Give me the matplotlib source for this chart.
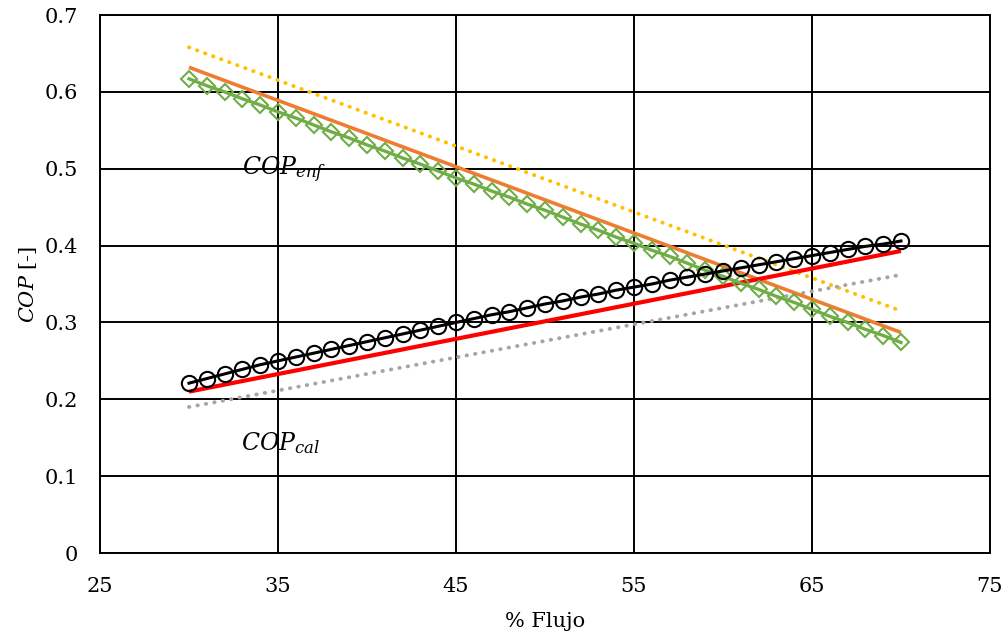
import matplotlib
matplotlib.use("Agg")
import matplotlib.pyplot as plt

plt.rcParams['font.family'] = ['DejaVu Serif']
plt.rcParams['mathtext.fontset'] = 'dejavuserif'

flujo = list(range(30, 71))

cop_cal = [0.221, 0.227, 0.233, 0.239, 0.245, 0.250, 0.255, 0.260, 0.265, 0.270,
           0.275, 0.280, 0.285, 0.290, 0.295, 0.300, 0.305, 0.310, 0.314, 0.319,
           0.324, 0.328, 0.333, 0.337, 0.342, 0.346, 0.350, 0.355, 0.359, 0.363,
           0.367, 0.371, 0.375, 0.379, 0.383, 0.387, 0.391, 0.395, 0.399, 0.402,
           0.406]

cop_enf = [0.617, 0.608, 0.600, 0.591, 0.583, 0.574, 0.566, 0.557, 0.548, 0.540,
           0.531, 0.523, 0.514, 0.506, 0.497, 0.488, 0.480, 0.471, 0.463, 0.454,
           0.446, 0.437, 0.428, 0.420, 0.411, 0.403, 0.394, 0.386, 0.377, 0.368,
           0.360, 0.351, 0.343, 0.334, 0.326, 0.317, 0.308, 0.300, 0.291, 0.283,
           0.274]

line_x = [30, 70]
red_cal = [0.210, 0.393]
gray_cal = [0.190, 0.362]
orange_enf = [0.632, 0.287]
yellow_enf = [0.658, 0.315]

x_ticks = [25, 35, 45, 55, 65, 75]
y_ticks = [0, 0.1, 0.2, 0.3, 0.4, 0.5, 0.6, 0.7]
y_tick_labels = ["0", "0.1", "0.2", "0.3", "0.4", "0.5", "0.6", "0.7"]

fig = plt.figure(figsize=(10.03, 6.42), dpi=100)
ax = fig.add_axes([0.0997, 0.1386, 0.8873, 0.838])

ax.plot(line_x, yellow_enf, color='#FFC000', lw=2.8, linestyle=(0, (0.1, 2.1)),
        dash_capstyle='round', zorder=3)
ax.plot(line_x, gray_cal, color='#A5A5A5', lw=2.8, linestyle=(0, (0.1, 2.1)),
        dash_capstyle='round', zorder=3)
ax.plot(line_x, orange_enf, color='#ED7D31', lw=2.6, solid_capstyle='butt', zorder=3)
ax.plot(line_x, red_cal, color='#FF0000', lw=3.0, solid_capstyle='butt', zorder=3)
ax.plot(flujo, cop_enf, color='#70AD47', lw=2.4, marker='D', markersize=8.5,
        markerfacecolor='none', markeredgecolor='#70AD47', markeredgewidth=1.5, zorder=4)
ax.plot(flujo, cop_cal, color='black', lw=2.2, marker='o', markersize=11,
        markerfacecolor='none', markeredgecolor='black', markeredgewidth=1.5, zorder=5)

ax.text(33.0, 0.499, r'$COP_{enf}$', fontsize=17, va='center', ha='left')
ax.text(32.9, 0.143, r'$COP_{cal}$', fontsize=17, va='center', ha='left')

ax.set_xlim(25, 75)
ax.set_ylim(0, 0.7)
ax.set_xticks(x_ticks)
ax.set_yticks(y_ticks)
ax.set_yticklabels(y_tick_labels)
ax.tick_params(length=0, labelsize=15)
ax.tick_params(axis='x', pad=17)
ax.tick_params(axis='y', pad=16)
ax.grid(True, color='black', lw=1.4)
ax.set_axisbelow(True)
for s in ax.spines.values():
    s.set_color('black')
    s.set_linewidth(1.4)

ax.set_xlabel('% Flujo', fontsize=15, labelpad=12)
ax.set_ylabel(r'$COP$ [-]', fontsize=15, labelpad=4)

fig.savefig('out.png', dpi=100)
